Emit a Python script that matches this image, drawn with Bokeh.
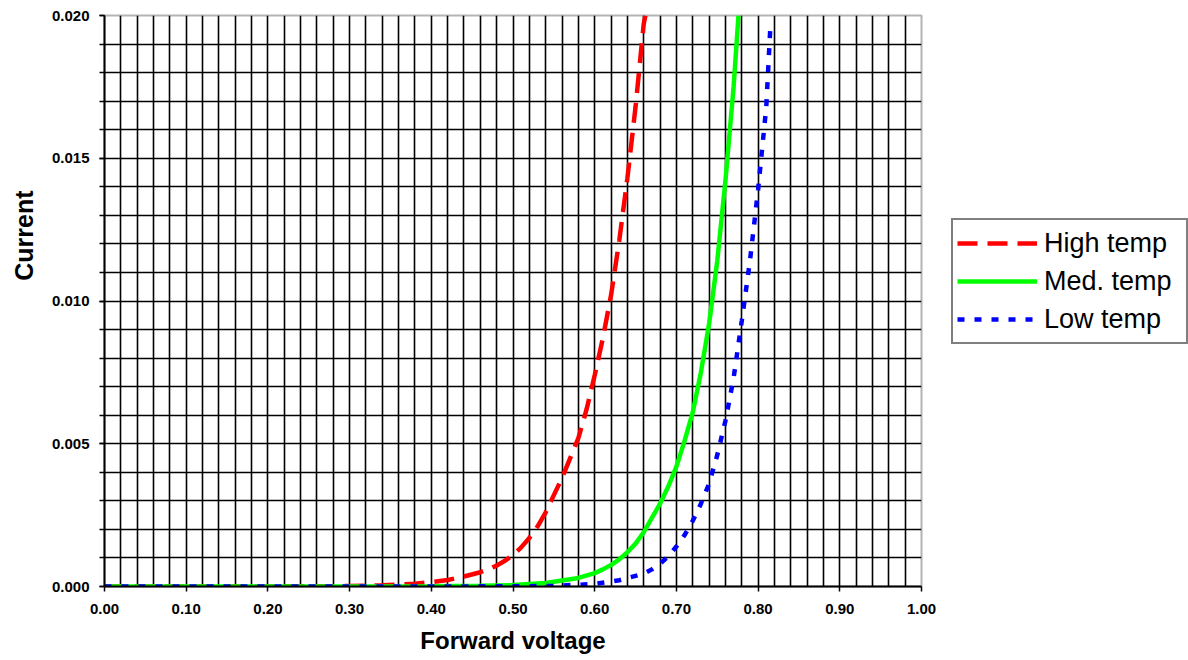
import math
from bokeh.plotting import figure
from bokeh.layouts import row
from bokeh.models import Range1d, FixedTicker, NumeralTickFormatter, Legend, LegendItem, Title
from bokeh.embed import file_html
from bokeh.resources import INLINE

# --- data ---
high_v = [0.00, 0.10, 0.20, 0.30, 0.34, 0.38, 0.40, 0.42, 0.44, 0.46, 0.47, 0.48, 0.49,
          0.50, 0.51, 0.52, 0.53, 0.54, 0.55, 0.56, 0.57, 0.58, 0.59, 0.60, 0.61,
          0.62, 0.63, 0.64, 0.65, 0.66, 0.662]
high_i = [0.0, 0.0000002, 0.000002, 0.000014, 0.00004, 0.0001, 0.00015, 0.00023,
          0.00035, 0.0005, 0.0006, 0.00073, 0.0009, 0.0011, 0.00137, 0.0017, 0.0021,
          0.0026, 0.0032, 0.0038, 0.0045, 0.0052, 0.0062, 0.0074, 0.0087, 0.0102,
          0.0121, 0.0143, 0.0168, 0.0197, 0.0200]

med_v = [0.00, 0.20, 0.30, 0.40, 0.46, 0.50, 0.54, 0.58, 0.60, 0.61, 0.62, 0.63,
         0.64, 0.65, 0.66, 0.67, 0.68, 0.69, 0.70, 0.71, 0.72, 0.73, 0.74, 0.75,
         0.76, 0.77, 0.776]
med_i = [0.0, 0.0000002, 0.000001, 0.000008, 0.000025, 0.00005, 0.00012, 0.0003,
         0.00047, 0.0006, 0.00075, 0.00095, 0.0012, 0.0015, 0.0019, 0.0024, 0.0029,
         0.0035, 0.0042, 0.0051, 0.0061, 0.0075, 0.0092, 0.0114, 0.0142, 0.0175,
         0.0200]

low_v = [0.00, 0.30, 0.40, 0.50, 0.55, 0.60, 0.63, 0.66, 0.67, 0.68, 0.69, 0.70,
         0.71, 0.72, 0.73, 0.74, 0.75, 0.76, 0.77, 0.78, 0.79, 0.80, 0.81, 0.815]
low_i = [0.0, 0.0000002, 0.000001, 0.000008, 0.00002, 0.00009, 0.00022, 0.00045,
         0.0006, 0.0008, 0.00105, 0.0014, 0.0018, 0.0023, 0.0029, 0.0036, 0.0046,
         0.0058, 0.0073, 0.0093, 0.0114, 0.0139, 0.0168, 0.0196]

series_names = ["High temp", "Med. temp", "Low temp"]
x_ticks = [0.0, 0.1, 0.2, 0.3, 0.4, 0.5, 0.6, 0.7, 0.8, 0.9, 1.0]
y_ticks = [0.0, 0.005, 0.010, 0.015, 0.020]

FONT = "Liberation Sans"
H = 656
MAIN_W = 940

p = figure(width=MAIN_W, height=H, x_range=Range1d(0, 1), y_range=Range1d(0, 0.02),
           output_backend="svg", toolbar_location=None,
           min_border_left=104, min_border_top=15, min_border_right=MAIN_W - 921,
           min_border_bottom=H - 587)

p.background_fill_color = "white"
p.border_fill_color = "white"
p.outline_line_color = "#b4b4b4"
p.outline_line_width = 2

# grids
p.xgrid.ticker = FixedTicker(ticks=[round(0.02 * k, 2) for k in range(1, 50)])
p.ygrid.ticker = FixedTicker(ticks=[round(0.001 * k, 3) for k in range(1, 20)])
for g in (p.xgrid, p.ygrid):
    g.grid_line_color = "black"
    g.grid_line_width = 1.6

# axes
p.xaxis.ticker = FixedTicker(ticks=x_ticks)
p.xaxis.formatter = NumeralTickFormatter(format="0.00")
p.yaxis.ticker = FixedTicker(ticks=y_ticks, minor_ticks=[round(0.001 * k, 3) for k in range(21)])
p.yaxis.formatter = NumeralTickFormatter(format="0.000")
for ax in (p.xaxis, p.yaxis):
    ax.axis_line_color = "black"
    ax.axis_line_width = 2
    ax.major_tick_line_color = "black"
    ax.major_tick_line_width = 1.5
    ax.minor_tick_line_color = "black"
    ax.minor_tick_line_width = 1.5
    ax.major_tick_in = 0
    ax.major_tick_out = 5
    ax.minor_tick_in = 0
    ax.minor_tick_out = 5
    ax.major_label_text_font = FONT
    ax.major_label_text_font_style = "bold"
    ax.major_label_text_font_size = "15px"
    ax.major_label_text_color = "black"
p.xaxis.minor_tick_out = 0
p.xaxis.major_label_standoff = 12
p.yaxis.major_label_standoff = 10

p.xaxis.axis_label = "Forward voltage"
p.xaxis.axis_label_text_font = FONT
p.xaxis.axis_label_text_font_style = "bold"
p.xaxis.axis_label_text_font_size = "24px"
p.xaxis.axis_label_text_color = "black"
p.xaxis.axis_label_standoff = 10

ytitle = Title(text="Current", align="right", offset=175, vertical_align="top",
               text_font=FONT, text_font_style="bold", text_font_size="25px",
               text_color="black")
try:
    ytitle.standoff = 18
except AttributeError:
    pass
p.add_layout(ytitle, "left")

# series
styles = [dict(line_color="#ff0000", line_width=4.5, line_dash="20 10"),
          dict(line_color="#00ff00", line_width=4.5),
          dict(line_color="#0000ff", line_width=4.5, line_dash="7 10")]
data = [(high_v, high_i), (med_v, med_i), (low_v, low_i)]
for (xs, ys), st in zip(data, styles):
    p.line(xs, ys, **st)

# legend panel (separate canvas to the right so it is not clipped by the frame)
LEG_W = 1188 - MAIN_W
q = figure(width=LEG_W, height=H, x_range=Range1d(5, 6), y_range=Range1d(5, 6),
           output_backend="svg", toolbar_location=None, x_axis_type=None, y_axis_type=None,
           min_border_left=0, min_border_right=0, min_border_top=0, min_border_bottom=0)
q.outline_line_color = None
q.background_fill_color = "white"
q.border_fill_color = "white"
q.xgrid.visible = False
q.ygrid.visible = False
items = []
for name, (xs, ys), st in zip(series_names, data, styles):
    r = q.line(xs, ys, **st)
    items.append(LegendItem(label=name, renderers=[r]))

legend = Legend(items=items, location=(951 - MAIN_W, 242))
legend.border_line_color = "black"
legend.border_line_width = 2
legend.background_fill_color = "white"
legend.background_fill_alpha = 1
legend.label_text_font = FONT
legend.label_text_font_size = "27px"
legend.label_text_color = "black"
legend.glyph_width = 80
legend.glyph_height = 38
legend.label_height = 38
legend.label_width = 138
legend.label_standoff = 7
legend.padding = 4
legend.spacing = 0
legend.margin = 0
q.add_layout(legend)

layout = row(p, q, spacing=0)
open("out.html", "w").write(file_html(layout, INLINE))
